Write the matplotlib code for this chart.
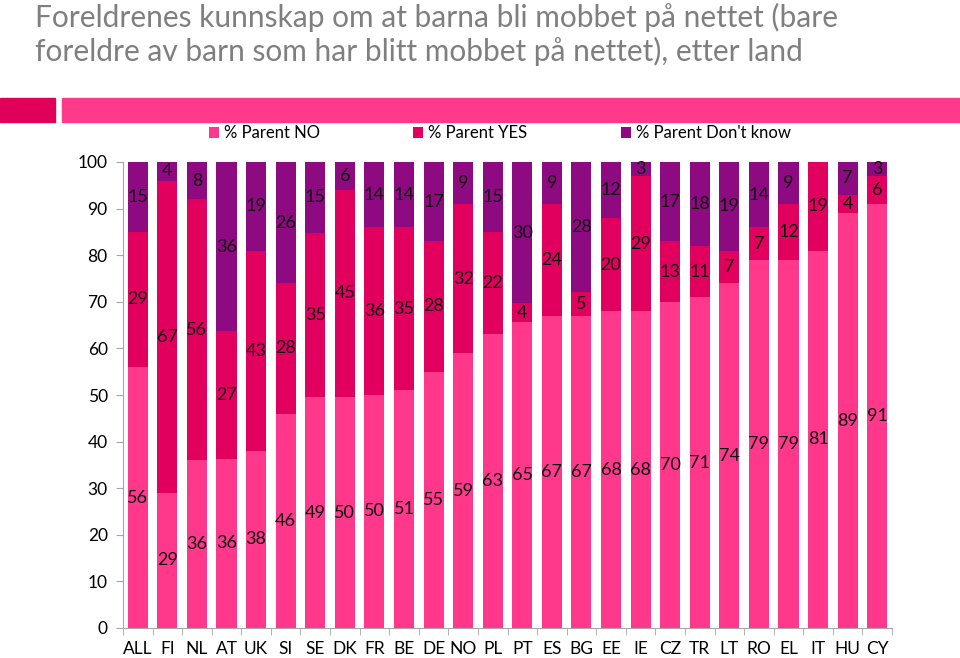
import numpy as np
import matplotlib.pyplot as plt
from matplotlib.patches import Rectangle

countries = ['ALL', 'FI', 'NL', 'AT', 'UK', 'SI', 'SE', 'DK', 'FR', 'BE', 'DE', 'NO', 'PL',
             'PT', 'ES', 'BG', 'EE', 'IE', 'CZ', 'TR', 'LT', 'RO', 'EL', 'IT', 'HU', 'CY']
parent_no = [56, 29, 36, 36, 38, 46, 49, 50, 50, 51, 55, 59, 63,
             65, 67, 67, 68, 68, 70, 71, 74, 79, 79, 81, 89, 91]
parent_yes = [29, 67, 56, 27, 43, 28, 35, 45, 36, 35, 28, 32, 22,
              4, 24, 5, 20, 29, 13, 11, 7, 7, 12, 19, 4, 6]
parent_dk = [15, 4, 8, 36, 19, 26, 15, 6, 14, 14, 17, 9, 15,
             30, 9, 28, 12, 3, 17, 18, 19, 14, 9, 0, 7, 3]
series_names = ['% Parent NO', '% Parent YES', "% Parent Don't know"]
colors = ['#FF388C', '#E2005E', '#8E0A80']

plt.rcParams['font.family'] = ['Lato', 'DejaVu Sans']


def main():
    no = np.array(parent_no, dtype=float)
    yes = np.array(parent_yes, dtype=float)
    dk = np.array(parent_dk, dtype=float)
    # 100% stacked: scale each bar so it reaches 100
    tot = no + yes + dk
    segs = [no / tot * 100, yes / tot * 100, dk / tot * 100]
    raw = [parent_no, parent_yes, parent_dk]

    fig = plt.figure(figsize=(9.6, 6.58), dpi=100)
    ax = fig.add_axes([123 / 960, 30 / 658, 769 / 960, 466 / 658])

    x = np.arange(len(countries))
    bottom = np.zeros(len(countries))
    for vals, lab, c, rv in zip(segs, series_names, colors, raw):
        ax.bar(x, vals, 0.68, bottom=bottom, color=c, label=lab)
        for xi, b, v, r in zip(x, bottom, vals, rv):
            if r > 0:
                ax.text(xi, b + v / 2, str(r), ha='center', va='center',
                        fontsize=13, color='#111111')
        bottom = bottom + vals

    ax.set_xlim(-0.5, len(countries) - 0.5)
    ax.set_ylim(0, 100)
    ax.set_yticks(range(0, 101, 10))
    ax.set_xticks(x)
    ax.set_xticklabels(countries)
    ax.set_xticks(np.arange(-0.5, len(countries), 1), minor=True)
    ax.tick_params(axis='x', which='major', length=0, labelsize=12.5, pad=9)
    ax.tick_params(axis='x', which='minor', length=5, color='#A6A6A6')
    ax.tick_params(axis='y', length=5, color='#A6A6A6', labelsize=12.5, pad=6)
    for s in ['top', 'right']:
        ax.spines[s].set_visible(False)
    for s in ['left', 'bottom']:
        ax.spines[s].set_color('#A6A6A6')

    ax.legend(loc='center', bbox_to_anchor=(0.49, 1.062), ncol=3, frameon=False,
              fontsize=12, handlelength=0.6, handleheight=0.6, handletextpad=0.3,
              columnspacing=5.6)

    # decorative header bars
    fig.patches.append(Rectangle((0, 1 - 122 / 658), 55 / 960, 24 / 658,
                                 transform=fig.transFigure, color='#E0005A'))
    fig.patches.append(Rectangle((62 / 960, 1 - 122 / 658), 1, 24 / 658,
                                 transform=fig.transFigure, color='#FF3A8A'))

    fig.text(35 / 960, 1 - 17 / 658,
             'Foreldrenes kunnskap om at barna bli mobbet på nettet (bare',
             fontsize=21.5, color='#7F7F7F', va='center', ha='left')
    fig.text(35 / 960, 1 - 51 / 658,
             'foreldre av barn som har blitt mobbet på nettet), etter land',
             fontsize=21.5, color='#7F7F7F', va='center', ha='left')

    fig.savefig('out.png', dpi=100)


if __name__ == '__main__':
    main()
